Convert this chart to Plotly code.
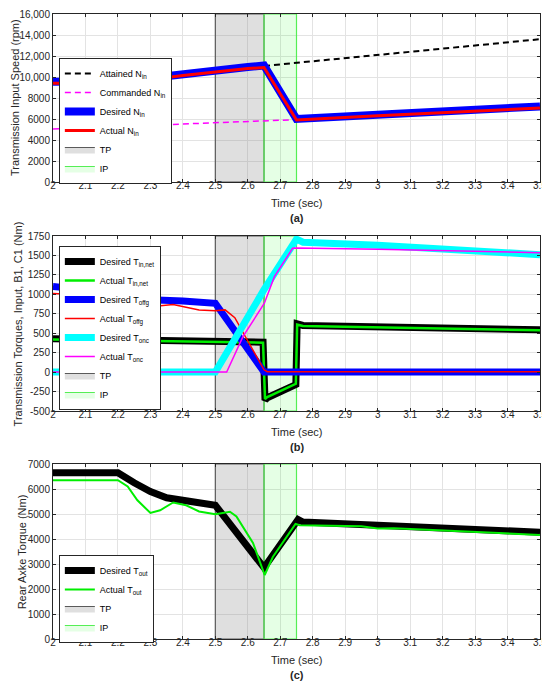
import plotly.graph_objects as go

# shift phases (sec)
tp_window = [2.5, 2.65]
ip_window = [2.65, 2.75]

# (a) transmission input speed (rpm)
t_speed = [2.0, 2.2, 2.25, 2.3, 2.4, 2.5, 2.6, 2.65, 2.75, 3.0, 3.25, 3.5]
n_desired = [9550, 9550, 9650, 9900, 10300, 10650, 10950, 11100, 6000, 6400, 6800, 7200]
n_actual = [9400, 9400, 9500, 9750, 10150, 10500, 10800, 10900, 5900, 6300, 6650, 7050]
t_attained = [2.65, 3.5]
n_attained = [11050, 13600]
t_commanded = [2.0, 2.5, 2.65, 2.75]
n_commanded = [5050, 5600, 5820, 5940]

# (b) transmission torques (Nm)
t_net = [2.0, 2.3, 2.5, 2.647, 2.653, 2.66, 2.748, 2.752, 2.77, 3.5]
net_desired = [430, 405, 390, 385, -360, -330, -160, 620, 600, 545]
net_actual = [420, 398, 383, 378, -345, -320, -150, 610, 592, 538]
t_offg_des = [2.0, 2.05, 2.1, 2.2, 2.3, 2.4, 2.5, 2.65, 3.5]
offg_desired = [1100, 1080, 1010, 960, 930, 915, 885, 0, 0]
t_offg_act = [2.0, 2.05, 2.1, 2.2, 2.3, 2.37, 2.45, 2.5, 2.53, 2.56, 2.6, 2.63, 2.65, 2.66, 3.5]
offg_actual = [1010, 1000, 960, 880, 840, 870, 800, 790, 800, 700, 400, 180, 30, 5, 5]
t_onc_des = [2.0, 2.5, 2.65, 2.75, 2.77, 3.0, 3.5]
onc_desired = [0, 0, 1060, 1710, 1670, 1630, 1510]
t_onc_act = [2.0, 2.535, 2.585, 2.651, 2.682, 2.738, 2.75, 2.98, 3.0, 3.5]
onc_actual = [0, 0, 456, 885, 1227, 1592, 1595, 1590, 1580, 1535]

# (c) rear axle torque (Nm)
t_out = [2.0, 2.2, 2.25, 2.3, 2.35, 2.4, 2.45, 2.5, 2.65, 2.75, 2.755, 2.77, 3.5]
out_desired = [6650, 6650, 6250, 5900, 5650, 5550, 5490, 5350, 2850, 4700, 4780, 4680, 4270]
t_out_act = [2.0, 2.2, 2.23, 2.26, 2.3, 2.33, 2.37, 2.41, 2.45, 2.5, 2.545, 2.565,
             2.616, 2.652, 2.677, 2.747, 2.76, 2.95, 3.0, 3.05, 3.5]
out_actual = [6350, 6350, 6100, 5550, 5040, 5150, 5460, 5350, 5100, 4990, 5090, 4900,
              3840, 2560, 3280, 4600, 4550, 4510, 4420, 4430, 4160]

speed_range = [0, 16000]
torque_range = [-500, 1750]
out_range = [0, 7000]

AX = "#262626"
GRID = "#e3e3e3"
FONT = "Liberation Sans, Arial, sans-serif"

fig = go.Figure()


def add_phases(xa, ya, yr, leg):
    for (x0, x1), name, fc, lc in [
        (tp_window, "TP", "rgba(128,128,128,0.25)", "#5a5a5a"),
        (ip_window, "IP", "rgba(0,255,0,0.10)", "#55ee55"),
    ]:
        fig.add_trace(go.Scatter(
            x=[x0, x1, x1, x0, x0], y=[yr[0], yr[0], yr[1], yr[1], yr[0]],
            xaxis=xa, yaxis=ya, mode="lines", fill="toself", fillcolor=fc,
            line=dict(color=lc, width=1.2), name=name, legend=leg,
            legendrank=2000, hoverinfo="skip"))


def add_line(x, y, name, color, width, xa, ya, leg, dash=None):
    fig.add_trace(go.Scatter(
        x=x, y=y, xaxis=xa, yaxis=ya, mode="lines", name=name, legend=leg,
        line=dict(color=color, width=width, dash=dash)))


# (a)
add_phases("x", "y", speed_range, "legend")
add_line(t_attained, n_attained, "Attained N<sub>in</sub>", "black", 2, "x", "y", "legend", "6px,4px")
add_line(t_commanded, n_commanded, "Commanded N<sub>in</sub>", "#ff00ff", 1.5, "x", "y", "legend", "6px,4px")
add_line(t_speed, n_desired, "Desired N<sub>in</sub>", "#0000ff", 8, "x", "y", "legend")
add_line(t_speed, n_actual, "Actual N<sub>in</sub>", "#ff0000", 3, "x", "y", "legend")

# (b)
add_phases("x2", "y2", torque_range, "legend2")
add_line(t_net, net_desired, "Desired T<sub>in,net</sub>", "black", 7, "x2", "y2", "legend2")
add_line(t_net, net_actual, "Actual T<sub>in,net</sub>", "#00ee00", 2.5, "x2", "y2", "legend2")
add_line(t_offg_des, offg_desired, "Desired T<sub>offg</sub>", "#0000ff", 7, "x2", "y2", "legend2")
add_line(t_offg_act, offg_actual, "Actual T<sub>offg</sub>", "#ff0000", 1.5, "x2", "y2", "legend2")
add_line(t_onc_des, onc_desired, "Desired T<sub>onc</sub>", "#00ffff", 7, "x2", "y2", "legend2")
add_line(t_onc_act, onc_actual, "Actual T<sub>onc</sub>", "#ff00ff", 1.5, "x2", "y2", "legend2")

# (c)
add_phases("x3", "y3", out_range, "legend3")
add_line(t_out, out_desired, "Desired T<sub>out</sub>", "black", 7, "x3", "y3", "legend3")
add_line(t_out_act, out_actual, "Actual T<sub>out</sub>", "#00ee00", 2, "x3", "y3", "legend3")

axis_style = dict(showline=True, mirror="ticks", linecolor=AX, linewidth=1,
                  ticks="inside", ticklen=3, tickcolor=AX, showgrid=True,
                  gridcolor=GRID, gridwidth=1, zeroline=False, automargin=False,
                  tickfont=dict(size=10, color=AX, family=FONT))

# the page sits 8 px in from the window edge, so the figure is 8 px smaller
domains = {"": [0.7312, 1.0], "2": [0.3648, 0.6448], "3": [0.0, 0.28]}
for k, dom in domains.items():
    fig.layout["xaxis" + k] = dict(axis_style, range=[2, 3.5], dtick=0.1, tick0=2,
                                   anchor="y" + k, domain=[0, 1], ticklabelstandoff=-6)
    fig.layout["yaxis" + k] = dict(axis_style, anchor="x" + k, domain=dom)

speed_ticks = list(range(0, 16001, 2000))
fig.layout.yaxis.update(range=speed_range, tickvals=speed_ticks,
                        ticktext=[f"{v:,}" if v >= 10000 else str(v) for v in speed_ticks])
torque_ticks = list(range(-500, 1751, 250))
fig.layout.yaxis2.update(range=torque_range, tickvals=torque_ticks,
                         ticktext=[str(v) for v in torque_ticks])
out_ticks = list(range(0, 7001, 1000))
fig.layout.yaxis3.update(range=out_range, tickvals=out_ticks,
                         ticktext=[str(v) for v in out_ticks])

legend_style = dict(xanchor="left", yanchor="top", bgcolor="white",
                    bordercolor=AX, borderwidth=1, itemwidth=30,
                    font=dict(size=9, color="black", family=FONT))
fig.update_layout(
    legend=dict(legend_style, x=0.012, y=0.9296),
    legend2=dict(legend_style, x=0.012, y=0.6288),
    legend3=dict(legend_style, x=0.012, y=0.1344),
)

ytitles = [("", "Transmission Input Speed (rpm)", -0.078),
           ("2", "Transmission Torques, Input, B1, C1 (Nm)", -0.072),
           ("3", "Rear Axke Torque (Nm)", -0.064)]
for (k, title, xpos), tag, h in zip(ytitles, ["(a)", "(b)", "(c)"], [168, 175, 175]):
    fig.add_annotation(text=title, xref=f"x{k} domain", yref=f"y{k} domain",
                       x=xpos, y=0.5, xanchor="center", yanchor="middle",
                       textangle=-90, showarrow=False,
                       font=dict(size=11, color=AX, family=FONT))
    fig.add_annotation(text="Time (sec)", xref=f"x{k} domain", yref=f"y{k} domain",
                       x=0.5, y=-21.0 / h, xanchor="center", yanchor="middle",
                       showarrow=False, font=dict(size=11, color=AX, family=FONT))
    fig.add_annotation(text=f"<b>{tag}</b>", xref=f"x{k} domain", yref=f"y{k} domain",
                       x=0.5, y=-36.0 / h, xanchor="center", yanchor="middle",
                       showarrow=False, font=dict(size=11, color=AX, family=FONT))

fig.update_layout(width=542, height=676, margin=dict(l=45, r=10, t=6, b=45),
                  plot_bgcolor="white", paper_bgcolor="white",
                  font=dict(family=FONT), showlegend=True)

fig.write_html("out.html")
